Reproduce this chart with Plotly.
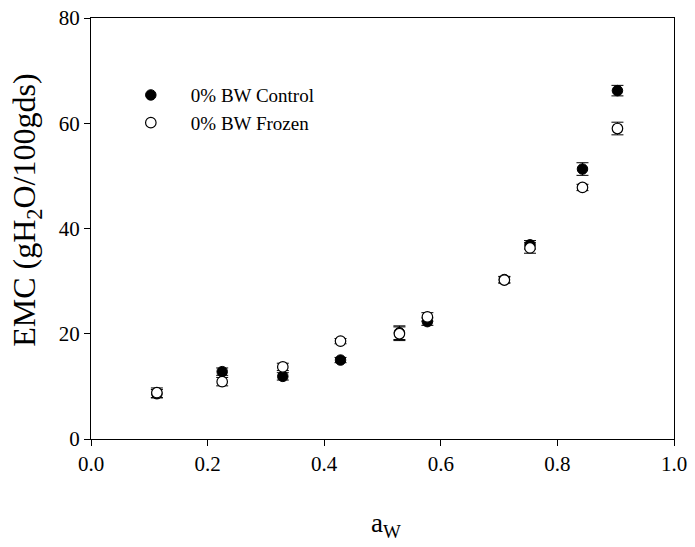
import plotly.graph_objects as go

aw = [0.113, 0.225, 0.329, 0.428, 0.529, 0.577, 0.709, 0.753, 0.843, 0.903]
control = [8.6, 12.8, 11.9, 15.0, 20.2, 22.3, 30.3, 36.9, 51.3, 66.2]
control_err = [0.8, 0.7, 0.7, 0.5, 1.3, 0.7, 0.6, 0.8, 1.2, 1.0]
frozen = [8.8, 10.9, 13.7, 18.6, 20.0, 23.2, 30.2, 36.3, 47.8, 59.0]
frozen_err = [0.9, 0.8, 0.7, 0.5, 1.3, 0.8, 0.6, 1.0, 0.6, 1.2]

FONT = "Liberation Serif"

fig = go.Figure()
fig.add_trace(go.Scatter(
    x=aw, y=control, mode="markers", name="0% BW Control",
    legendgroup="a",
    marker=dict(symbol="circle", size=10.5, color="black", line=dict(color="black", width=1)),
    error_y=dict(type="data", array=control_err, color="black", thickness=1, width=6),
))
fig.add_trace(go.Scatter(
    x=aw, y=frozen, mode="markers", name="0% BW Frozen",
    legendgroup="b",
    marker=dict(symbol="circle", size=10.5, color="white", line=dict(color="black", width=1.2)),
    error_y=dict(type="data", array=frozen_err, color="black", thickness=1, width=6),
))

axis_common = dict(
    showline=True, linecolor="black", linewidth=1, mirror=True,
    ticks="outside", ticklen=6, tickcolor="black", tickwidth=1,
    showgrid=False, zeroline=False, ticklabeloverflow="allow", automargin=False,
    tickfont=dict(family=FONT, size=21, color="black"),
)

fig.update_layout(
    width=695, height=547,
    margin=dict(l=91, r=21, t=18, b=108),
    plot_bgcolor="white", paper_bgcolor="white",
    font=dict(family=FONT, color="black"),
    xaxis=dict(range=[0, 1], dtick=0.2, tickformat=".1f", **axis_common),
    yaxis=dict(range=[0, 80], dtick=20, **axis_common),
    annotations=[
        dict(text="EMC (gH<sub>2</sub>O/100gds)", textangle=-90,
             xref="paper", yref="paper", x=-0.11, y=0.544,
             xanchor="center", yanchor="middle", showarrow=False,
             font=dict(family=FONT, size=32, color="black")),
        dict(text="a<sub>W</sub>",
             xref="paper", yref="paper", x=0.506, y=-0.205,
             xanchor="center", yanchor="middle", showarrow=False,
             font=dict(family=FONT, size=27, color="black")),
    ],
    legend=dict(x=0.034, y=0.862, xanchor="left", yanchor="top",
                traceorder="grouped", tracegroupgap=0, itemwidth=70,
                font=dict(family=FONT, size=19, color="black"),
                bgcolor="rgba(0,0,0,0)", borderwidth=0),
    showlegend=True,
)

fig.write_html("out.html", config={"displayModeBar": False},
               post_script="document.body.style.margin='0px';")
